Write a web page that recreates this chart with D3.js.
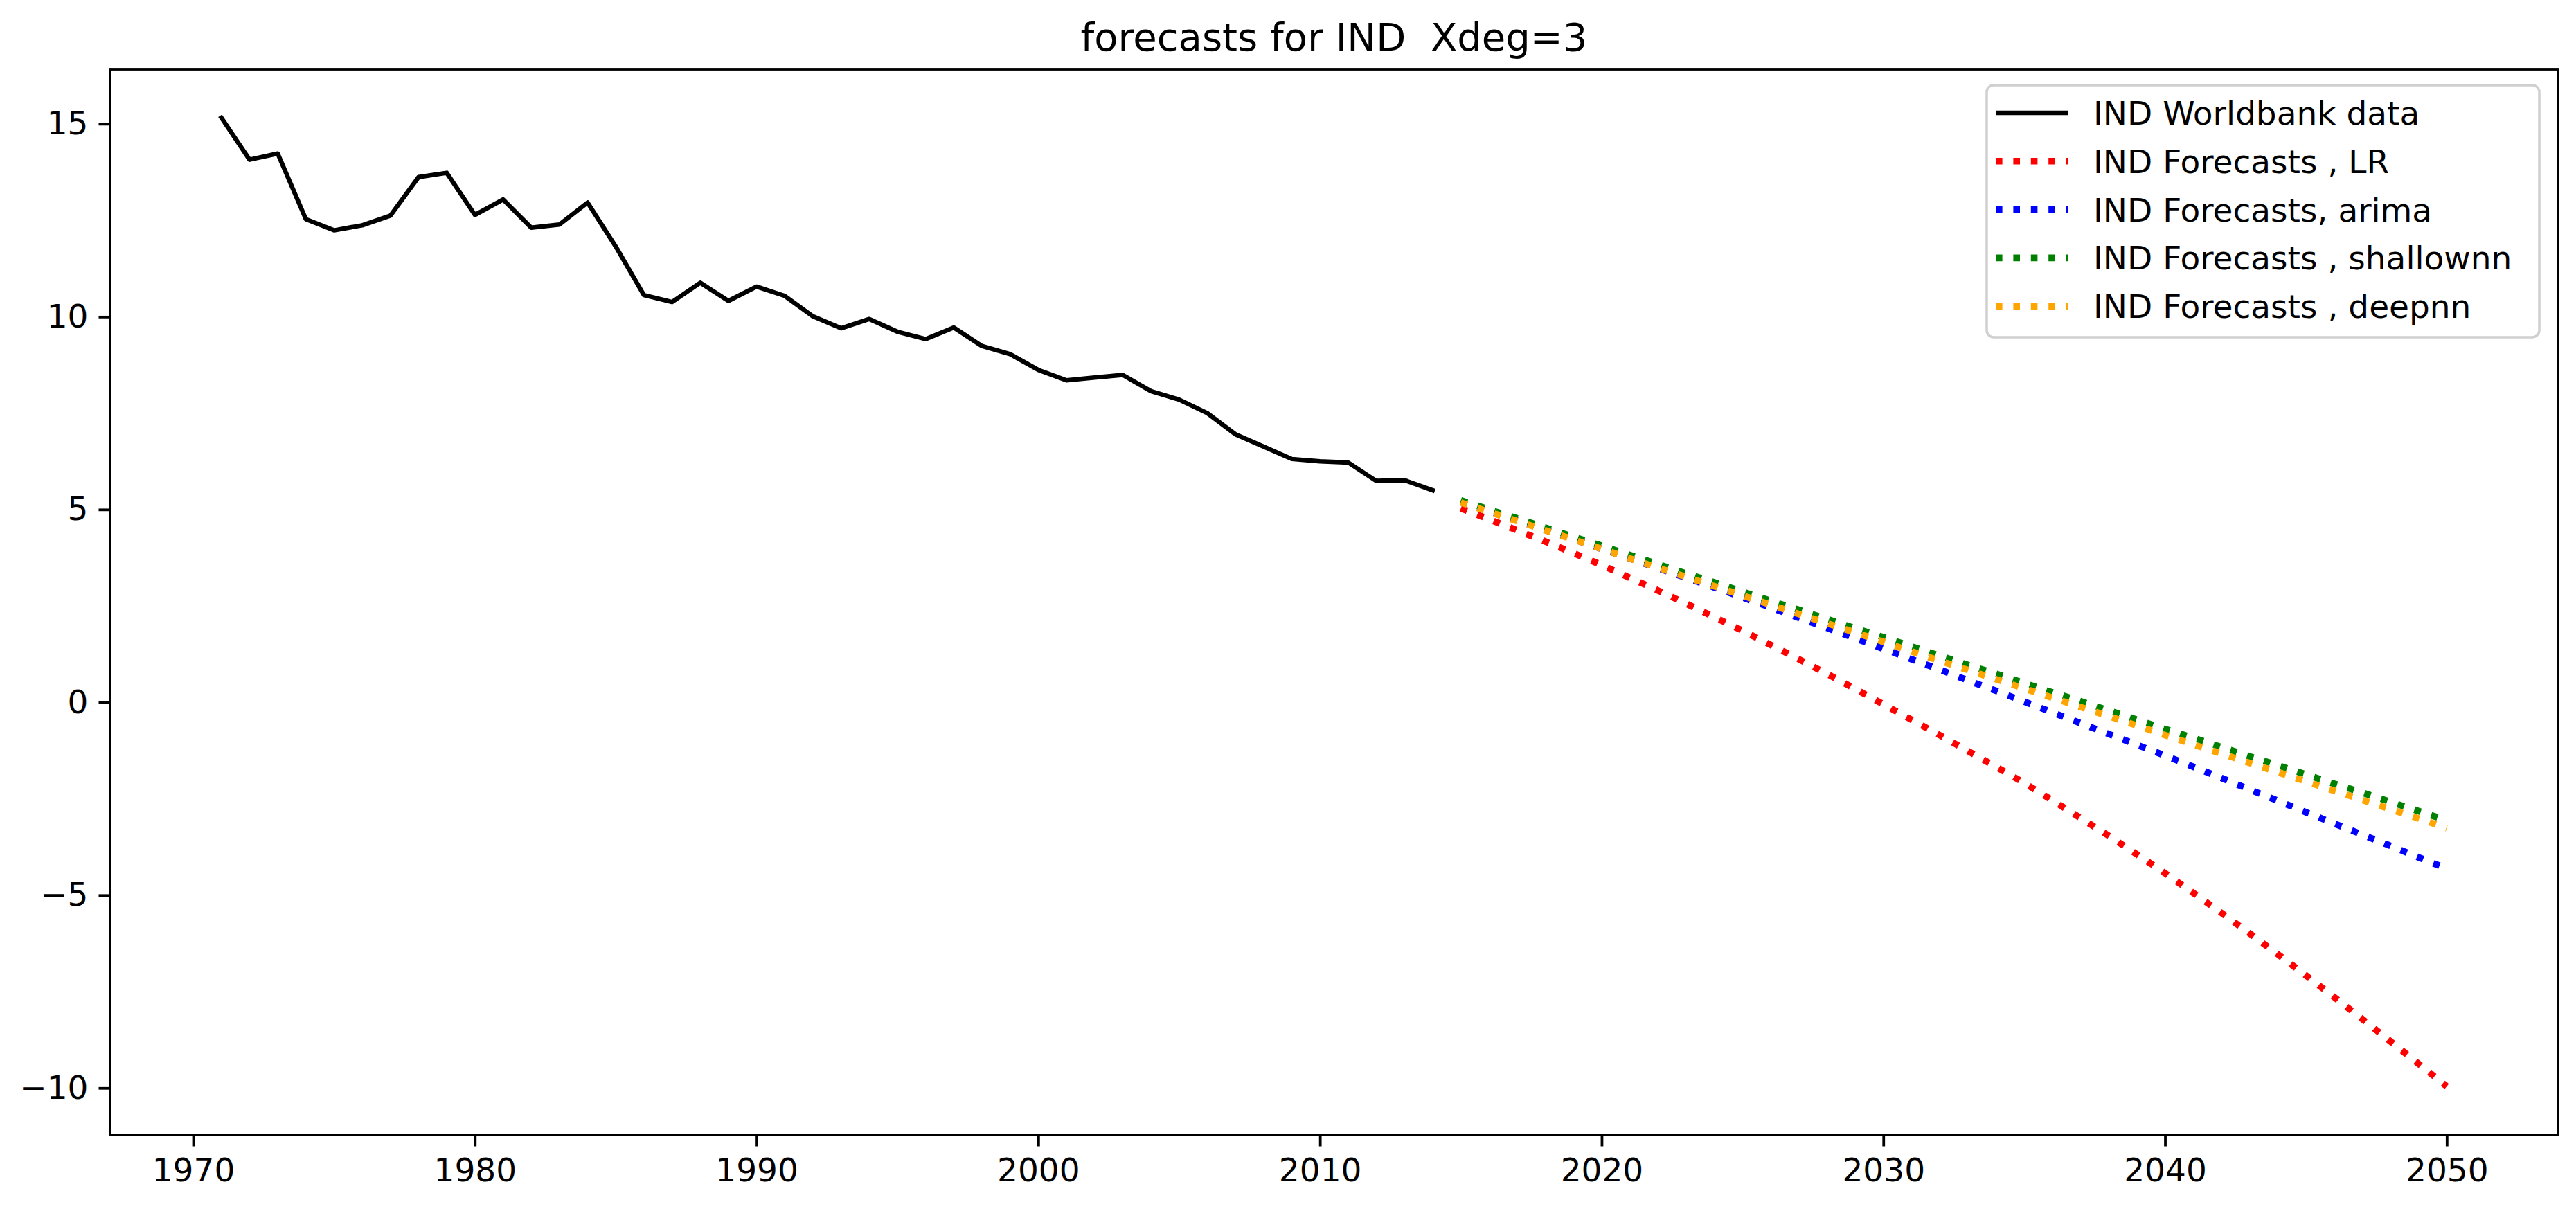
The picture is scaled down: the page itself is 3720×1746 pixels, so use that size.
<!DOCTYPE html>
<html>
<head>
<meta charset="utf-8">
<script src="https://cdn.jsdelivr.net/npm/d3@7"></script>
<style>
  body { margin: 0; background: #fff; }
  text { font-family: "DejaVu Sans", sans-serif; fill: #000; }
</style>
</head>
<body>
<div id="chart"></div>
<script>
// Worldbank data, 1971-2014
const histYears = d3.range(1971, 2015);
const histValues = [
  15.16, 14.07, 14.23, 12.53, 12.24, 12.37, 12.62, 13.62, 13.73, 12.64,
  13.04, 12.31, 12.39, 12.96, 11.82, 10.56, 10.38, 10.88, 10.41, 10.78,
  10.54, 10.01, 9.70, 9.94, 9.61, 9.42, 9.72, 9.24, 9.03, 8.62,
  8.35, 8.42, 8.49, 8.07, 7.85, 7.50, 6.95, 6.63, 6.31, 6.25,
  6.22, 5.74, 5.76, 5.50
];

// Forecasts, 2015-2050
const fcYears = d3.range(2015, 2051);
const lrValues = [
  5.03, 4.75, 4.46, 4.17, 3.87, 3.56, 3.23, 2.90, 2.56, 2.21,
  1.86, 1.49, 1.12, 0.74, 0.35, -0.05, -0.45, -0.85, -1.26, -1.67,
  -2.09, -2.54, -3.00, -3.46, -3.94, -4.43, -4.94, -5.46, -5.99, -6.53,
  -7.08, -7.64, -8.21, -8.79, -9.37, -9.96
];
const arimaValues = [
  5.20, 4.96, 4.72, 4.47, 4.23, 3.98, 3.73, 3.48, 3.23, 2.98,
  2.72, 2.46, 2.19, 1.93, 1.66, 1.39, 1.12, 0.85, 0.57, 0.30,
  0.02, -0.26, -0.54, -0.82, -1.10, -1.38, -1.67, -1.96, -2.26, -2.55,
  -2.85, -3.14, -3.43, -3.72, -4.02, -4.31
];
const shallowValues = [
  5.24, 5.00, 4.77, 4.53, 4.29, 4.06, 3.82, 3.58, 3.34, 3.11,
  2.87, 2.63, 2.40, 2.16, 1.92, 1.69, 1.45, 1.21, 0.97, 0.74,
  0.50, 0.26, 0.03, -0.21, -0.45, -0.69, -0.92, -1.16, -1.40, -1.63,
  -1.87, -2.11, -2.34, -2.58, -2.82, -3.06
];
const deepValues = [
  5.18, 4.94, 4.70, 4.46, 4.22, 3.98, 3.73, 3.49, 3.25, 3.01,
  2.77, 2.53, 2.29, 2.05, 1.81, 1.57, 1.32, 1.08, 0.84, 0.60,
  0.36, 0.12, -0.12, -0.36, -0.60, -0.85, -1.09, -1.33, -1.57, -1.81,
  -2.05, -2.29, -2.53, -2.77, -3.01, -3.26
];

const xTicks = d3.range(1970, 2051, 10);
const yTicks = [-10, -5, 0, 5, 10, 15];
const titleText = "forecasts for IND  Xdeg=3";

// series list (drawing order)
const series = [
  { label: "IND Worldbank data", years: histYears, values: histValues, color: "black", dotted: false },
  { label: "IND Forecasts , LR", years: fcYears, values: lrValues, color: "red", dotted: true },
  { label: "IND Forecasts, arima", years: fcYears, values: arimaValues, color: "blue", dotted: true },
  { label: "IND Forecasts , shallownn", years: fcYears, values: shallowValues, color: "green", dotted: true },
  { label: "IND Forecasts , deepnn", years: fcYears, values: deepValues, color: "orange", dotted: true }
];

// Dimensions
const W = 3720, H = 1746;
const margin = {top: 100, right: 26, bottom: 107, left: 159},
      width = W - margin.left - margin.right,
      height = H - margin.top - margin.bottom;
const fontSize = 47;
const spineW = 3.8, tickLen = 16.5;
const lineW = 6.5, dotW = 9.6;
const dash = `${dotW},${(dotW * 1.65).toFixed(1)}`;

const svg = d3.select("#chart")
  .append("svg")
    .attr("width", W)
    .attr("height", H)
  .append("g")
    .attr("transform", `translate(${margin.left},${margin.top})`);

// Scales with matplotlib-like 5% margins
const xMin = 1971, xMax = 2050;
const xPad = (xMax - xMin) * 0.05;
const x = d3.scaleLinear()
  .domain([xMin - xPad, xMax + xPad])
  .range([0, width]);

const allVals = series.flatMap(s => s.values);
const yLo = d3.min(allVals), yHi = d3.max(allVals);
const yPad = (yHi - yLo) * 0.05;
const y = d3.scaleLinear()
  .domain([yLo - yPad, yHi + yPad])
  .range([height, 0]);

// Axes
const xAxis = svg.append("g")
  .attr("transform", `translate(0,${height})`)
  .call(d3.axisBottom(x).tickValues(xTicks).tickFormat(d3.format("d"))
    .tickSize(tickLen).tickPadding(17));
const yAxis = svg.append("g")
  .call(d3.axisLeft(y).tickValues(yTicks).tickFormat(d3.format("d"))
    .tickSize(tickLen).tickPadding(15));

[xAxis, yAxis].forEach(a => {
  a.select(".domain").remove();
  a.selectAll(".tick line").attr("stroke", "#000").attr("stroke-width", spineW);
  a.selectAll(".tick text")
    .style("font-size", fontSize + "px")
    .style("font-family", "'DejaVu Sans', sans-serif")
    .attr("fill", "#000");
});

// Lines
const line = d3.line()
  .x(d => x(d[0]))
  .y(d => y(d[1]));

series.forEach(s => {
  svg.append("path")
    .datum(s.years.map((yr, i) => [yr, s.values[i]]))
    .attr("d", line)
    .attr("fill", "none")
    .attr("stroke", s.color)
    .attr("stroke-width", s.dotted ? dotW : lineW)
    .attr("stroke-dasharray", s.dotted ? dash : null)
    .attr("stroke-linejoin", "round")
    .attr("stroke-linecap", s.dotted ? "butt" : "square");
});

// Frame (spines)
svg.append("rect")
  .attr("width", width)
  .attr("height", height)
  .attr("fill", "none")
  .attr("stroke", "#000")
  .attr("stroke-width", spineW);

// Title (keep the double space)
svg.append("text")
  .attr("x", width / 2)
  .attr("y", -27)
  .attr("text-anchor", "middle")
  .attr("xml:space", "preserve")
  .style("white-space", "pre")
  .style("font-size", "56px")
  .text(titleText);

// Legend
const legend = svg.append("g")
  .attr("transform", `translate(${2869 - margin.left},${123 - margin.top})`);
legend.append("rect")
  .attr("width", 798)
  .attr("height", 364)
  .attr("rx", 10)
  .attr("fill", "white")
  .attr("fill-opacity", 0.8)
  .attr("stroke", "#d0d0d0")
  .attr("stroke-width", 3.5);

const rowH = 69.8;
series.forEach((s, i) => {
  const cy = 40 + i * rowH;
  legend.append("line")
    .attr("x1", 13).attr("x2", 118)
    .attr("y1", cy).attr("y2", cy)
    .attr("stroke", s.color)
    .attr("stroke-width", s.dotted ? dotW : lineW)
    .attr("stroke-dasharray", s.dotted ? dash : null);
  legend.append("text")
    .attr("x", 154)
    .attr("y", cy)
    .attr("dy", "0.36em")
    .style("font-size", fontSize + "px")
    .text(s.label);
});
</script>
</body>
</html>
